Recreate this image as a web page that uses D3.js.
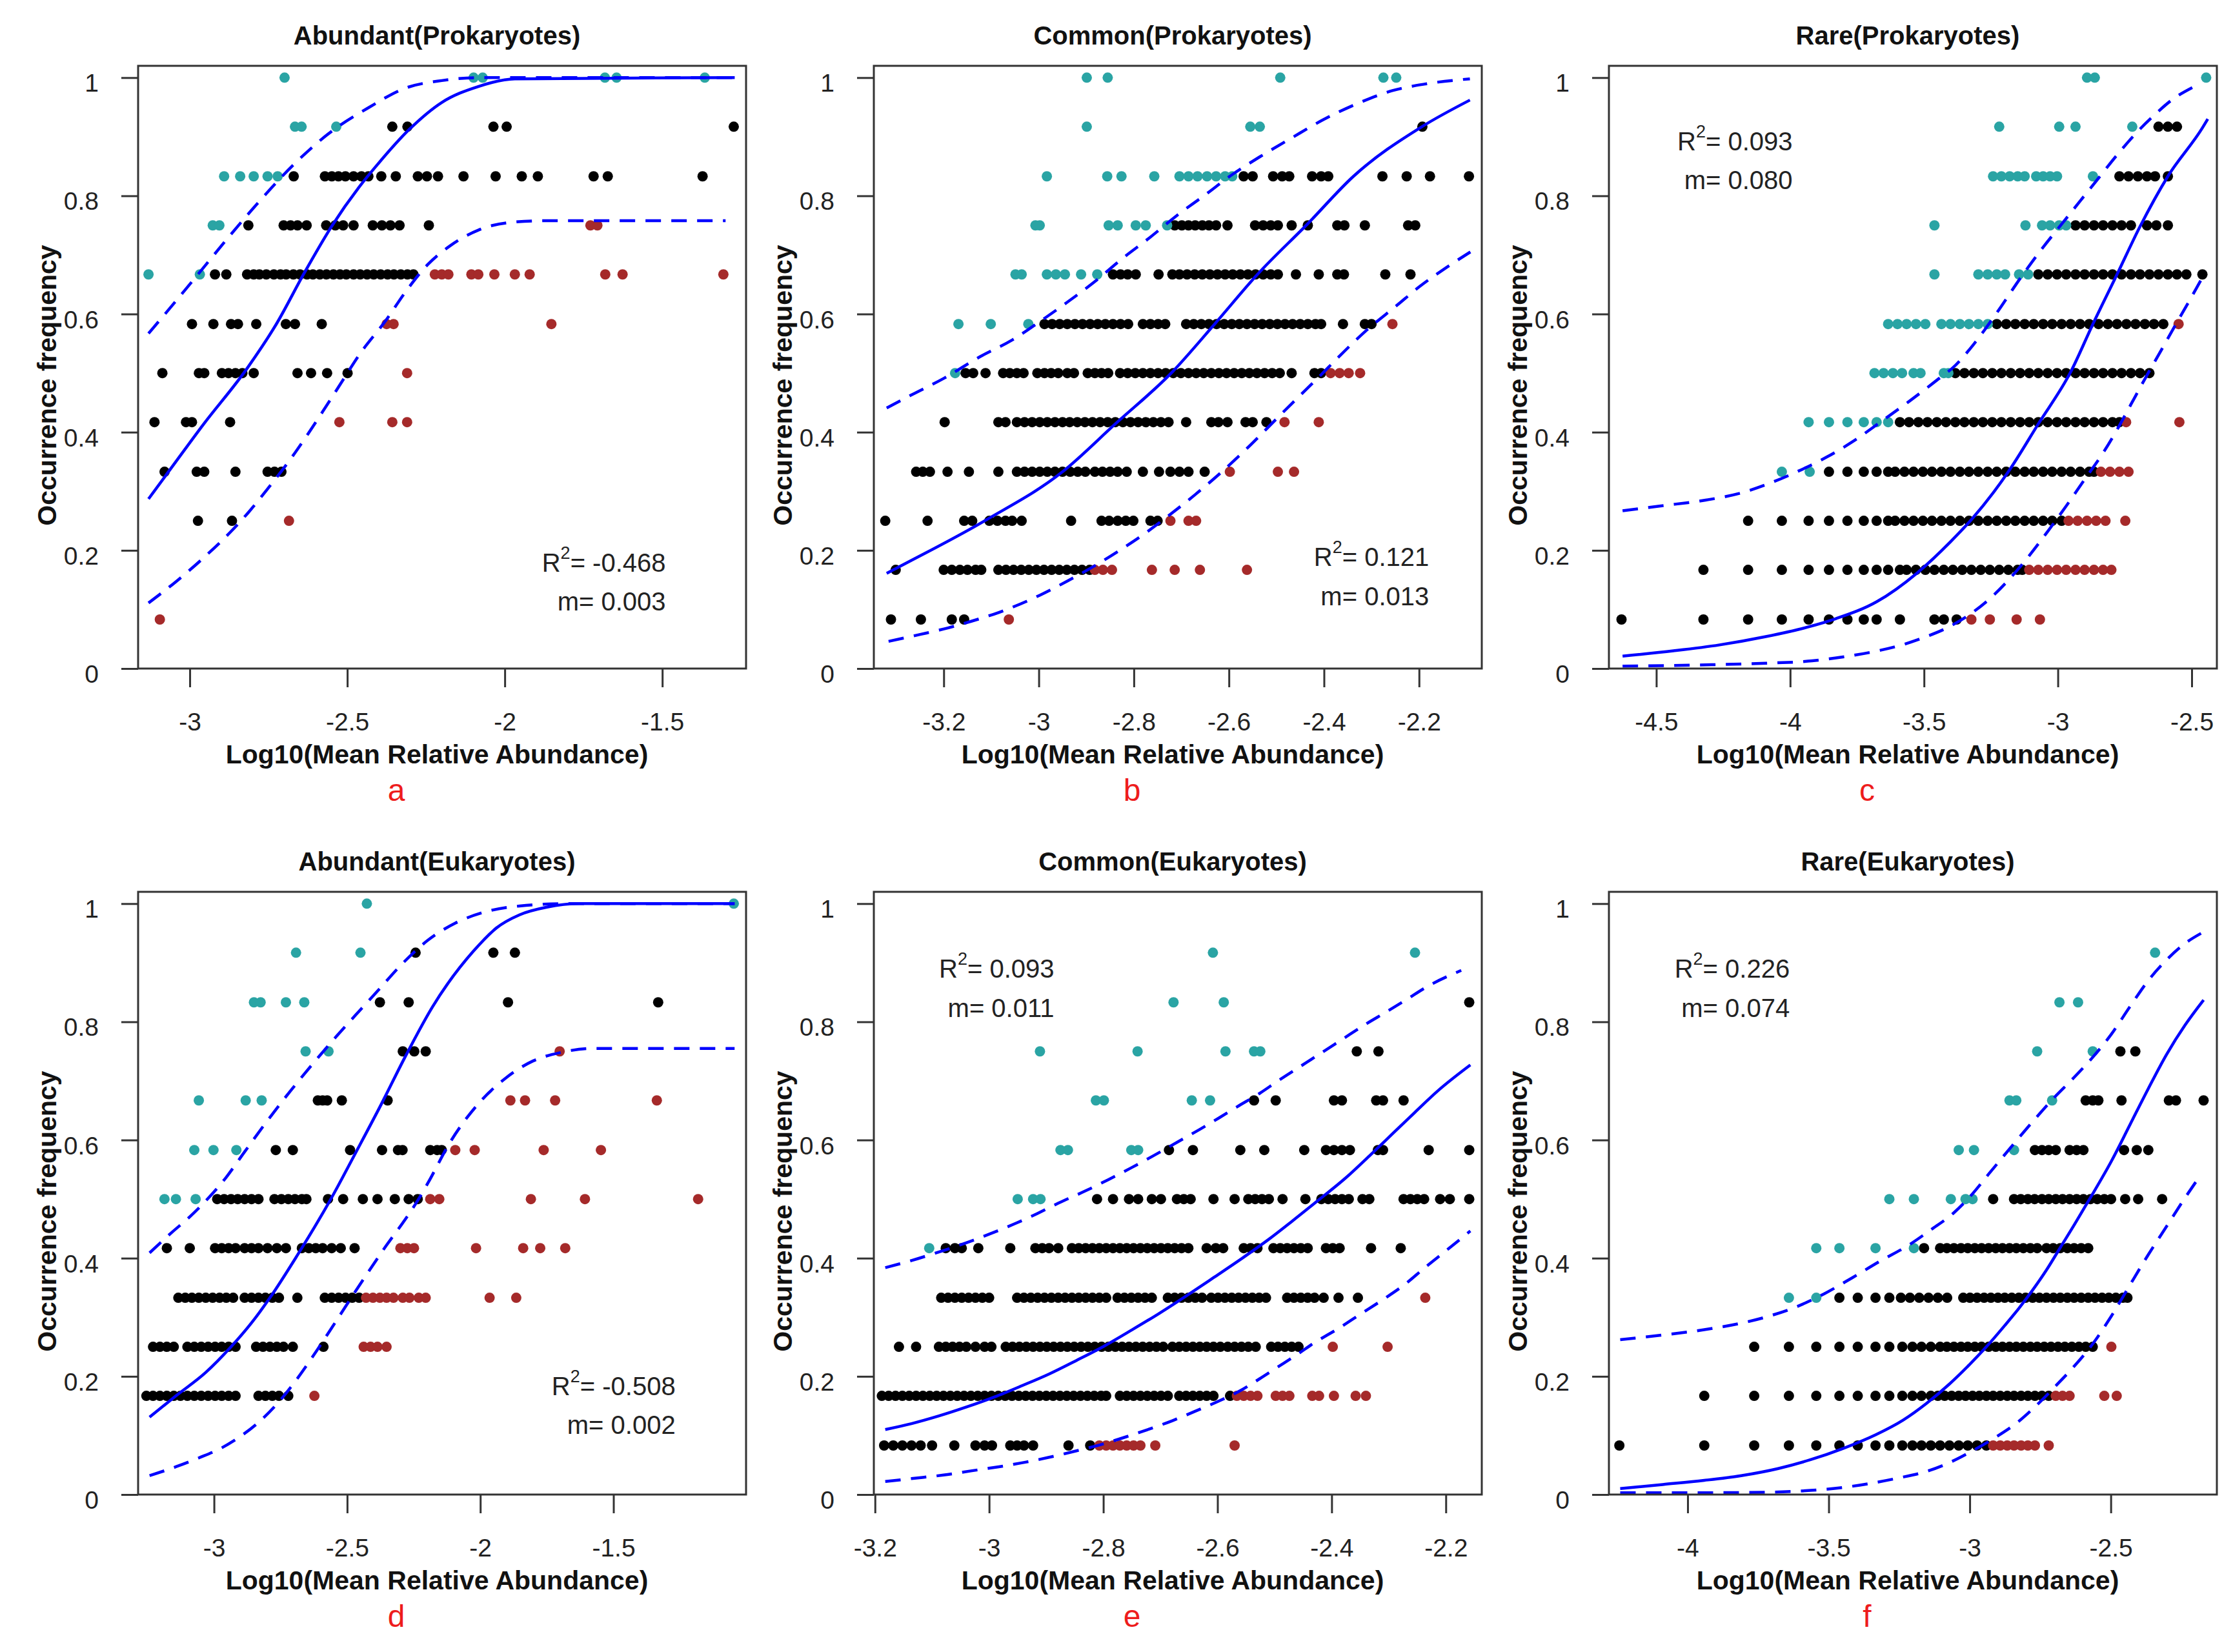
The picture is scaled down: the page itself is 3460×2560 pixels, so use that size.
<!DOCTYPE html>
<html lang="en">
<head>
<meta charset="UTF-8" />
<title>Occurrence frequency vs mean relative abundance</title>
<script src="https://d3js.org/d3.v7.min.js"></script>
<style>
  body { margin: 0; background: #fff; }
  svg { font-family: "Liberation Sans", Arial, sans-serif; }
</style>
</head>
<body>
<script>
// each row: [occurrence frequency, [log10 mean relative abundance, ...]]
// above = teal (above upper bound), neutral = black, below = brown (below lower bound)

// ---- a: Abundant (Prokaryotes)
const aAbove = [
  [1, [-2.699, -2.099, -2.070, -1.682, -1.645, -1.365]],
  [0.917, [-2.666, -2.645, -2.535]],
  [0.833, [-2.891, -2.840, -2.797, -2.753, -2.721]],
  [0.75, [-2.927, -2.906]],
  [0.667, [-3.131, -2.968]]
];
const aNeutral = [
  [0.917, [-2.357, -2.309, -2.036, -1.994, -1.273]],
  [0.833, [-2.670, -2.571, -2.549, -2.528, -2.506, -2.480, -2.455, -2.433, -2.392, -2.346, -2.276, -2.247, -2.212, -2.131, -2.029, -1.946, -1.895, -1.718, -1.673, -1.372]],
  [0.75, [-2.814, -2.702, -2.680, -2.658, -2.629, -2.567, -2.538, -2.513, -2.480, -2.419, -2.390, -2.363, -2.334, -2.241]],
  [0.667, [-2.920, -2.884, -2.818, -2.797, -2.779, -2.757, -2.733, -2.712, -2.694, -2.671, -2.650, -2.628, -2.609, -2.587, -2.566, -2.544, -2.523, -2.503, -2.480, -2.459, -2.437, -2.416, -2.394, -2.372, -2.352, -2.330, -2.309, -2.290]],
  [0.583, [-2.993, -2.925, -2.869, -2.847, -2.789, -2.695, -2.666, -2.581]],
  [0.5, [-3.087, -2.971, -2.954, -2.898, -2.877, -2.855, -2.833, -2.797, -2.658, -2.615, -2.564, -2.499]],
  [0.417, [-3.112, -3.012, -2.993, -2.872]],
  [0.333, [-3.080, -2.978, -2.954, -2.855, -2.753, -2.731, -2.709]],
  [0.25, [-2.974, -2.866]]
];
const aBelow = [
  [0.75, [-1.728, -1.706]],
  [0.667, [-2.222, -2.200, -2.179, -2.106, -2.084, -2.033, -1.968, -1.921, -1.681, -1.626, -1.306]],
  [0.583, [-2.375, -2.353, -1.852]],
  [0.5, [-2.310]],
  [0.417, [-2.525, -2.357, -2.310]],
  [0.25, [-2.685]],
  [0.083, [-3.095]]
];
const aFit = [[-3.131, 0.287], [-3.058, 0.340], [-2.957, 0.413], [-2.818, 0.508], [-2.724, 0.584], [-2.637, 0.669], [-2.550, 0.748], [-2.462, 0.815], [-2.404, 0.853], [-2.302, 0.913], [-2.200, 0.958], [-2.084, 0.985], [-1.968, 0.998], [-1.270, 1.0]];
const aUpper = [[-3.131, 0.567], [-3.044, 0.622], [-2.971, 0.669], [-2.869, 0.735], [-2.782, 0.789], [-2.666, 0.855], [-2.550, 0.909], [-2.433, 0.949], [-2.317, 0.982], [-2.200, 0.995], [-2.084, 1.0], [-1.270, 1.0]];
const aLower = [[-3.131, 0.111], [-3.044, 0.147], [-2.957, 0.187], [-2.869, 0.232], [-2.811, 0.266], [-2.753, 0.304], [-2.666, 0.365], [-2.579, 0.434], [-2.520, 0.483], [-2.462, 0.531], [-2.375, 0.591], [-2.317, 0.636], [-2.244, 0.684], [-2.172, 0.716], [-2.084, 0.742], [-1.982, 0.755], [-1.866, 0.758], [-1.299, 0.758]];

// ---- b: Common (Prokaryotes)
const bAbove = [
  [1, [-2.899, -2.855, -2.492, -2.275, -2.248]],
  [0.917, [-2.899, -2.555, -2.535]],
  [0.833, [-2.983, -2.856, -2.826, -2.757, -2.704, -2.685, -2.666, -2.646, -2.627, -2.608, -2.593]],
  [0.75, [-3.007, -2.998, -2.853, -2.834, -2.796, -2.775, -2.730]],
  [0.667, [-3.049, -3.036, -2.983, -2.964, -2.945, -2.911, -2.877]],
  [0.583, [-3.169, -3.101, -3.022]],
  [0.5, [-3.176]]
];
const bNeutral = [
  [0.917, [-2.193]],
  [0.833, [-2.569, -2.550, -2.507, -2.488, -2.473, -2.425, -2.406, -2.391, -2.277, -2.226, -2.177, -2.095]],
  [0.75, [-2.714, -2.699, -2.685, -2.671, -2.656, -2.642, -2.627, -2.603, -2.545, -2.528, -2.512, -2.497, -2.468, -2.434, -2.372, -2.357, -2.314, -2.223, -2.208]],
  [0.667, [-2.844, -2.828, -2.813, -2.796, -2.748, -2.719, -2.704, -2.688, -2.672, -2.656, -2.640, -2.624, -2.608, -2.592, -2.576, -2.560, -2.544, -2.528, -2.512, -2.497, -2.459, -2.411, -2.372, -2.358, -2.271, -2.218]],
  [0.583, [-2.988, -2.972, -2.956, -2.940, -2.924, -2.908, -2.892, -2.876, -2.860, -2.844, -2.828, -2.812, -2.781, -2.765, -2.749, -2.734, -2.690, -2.674, -2.658, -2.642, -2.626, -2.610, -2.594, -2.578, -2.562, -2.546, -2.530, -2.514, -2.498, -2.482, -2.466, -2.450, -2.434, -2.418, -2.406, -2.360, -2.314, -2.300]],
  [0.5, [-3.154, -3.138, -3.112, -3.075, -3.061, -3.046, -3.032, -3.003, -2.988, -2.974, -2.959, -2.940, -2.926, -2.897, -2.882, -2.868, -2.854, -2.829, -2.813, -2.797, -2.781, -2.765, -2.749, -2.733, -2.717, -2.701, -2.685, -2.669, -2.653, -2.637, -2.621, -2.605, -2.589, -2.573, -2.557, -2.541, -2.525, -2.509, -2.493, -2.468, -2.420, -2.406]],
  [0.417, [-3.198, -3.085, -3.070, -3.046, -3.030, -3.014, -2.998, -2.982, -2.966, -2.950, -2.935, -2.919, -2.903, -2.887, -2.871, -2.855, -2.839, -2.823, -2.807, -2.791, -2.775, -2.759, -2.743, -2.727, -2.690, -2.637, -2.622, -2.603, -2.565, -2.550, -2.521]],
  [0.333, [-3.258, -3.244, -3.229, -3.192, -3.147, -3.085, -3.046, -3.030, -3.014, -2.998, -2.982, -2.966, -2.950, -2.934, -2.918, -2.902, -2.882, -2.866, -2.850, -2.834, -2.815, -2.781, -2.747, -2.723, -2.704, -2.685, -2.651]],
  [0.25, [-3.323, -3.234, -3.157, -3.140, -3.104, -3.087, -3.070, -3.056, -3.036, -2.932, -2.868, -2.852, -2.834, -2.817, -2.801, -2.765, -2.750]],
  [0.167, [-3.301, -3.200, -3.183, -3.166, -3.150, -3.133, -3.121, -3.085, -3.069, -3.053, -3.037, -3.021, -3.005, -2.989, -2.973, -2.957, -2.941, -2.925, -2.909, -2.893]],
  [0.083, [-3.311, -3.248, -3.183, -3.157]]
];
const bBelow = [
  [0.583, [-2.256]],
  [0.5, [-2.386, -2.367, -2.348, -2.324]],
  [0.417, [-2.483, -2.411]],
  [0.333, [-2.598, -2.497, -2.463]],
  [0.25, [-2.723, -2.685, -2.669]],
  [0.167, [-2.882, -2.865, -2.846, -2.762, -2.714, -2.661, -2.562]],
  [0.083, [-3.063]]
];
const bFit = [[-3.320, 0.161], [-3.306, 0.167], [-3.114, 0.250], [-2.950, 0.333], [-2.839, 0.414], [-2.719, 0.502], [-2.630, 0.583], [-2.540, 0.667], [-2.435, 0.752], [-2.338, 0.833], [-2.194, 0.917], [-2.093, 0.962]];
const bUpper = [[-3.320, 0.441], [-3.268, 0.463], [-3.200, 0.491], [-3.123, 0.528], [-3.056, 0.556], [-2.998, 0.587], [-2.940, 0.620], [-2.882, 0.655], [-2.824, 0.694], [-2.767, 0.729], [-2.709, 0.767], [-2.651, 0.801], [-2.593, 0.836], [-2.535, 0.866], [-2.468, 0.898], [-2.401, 0.929], [-2.324, 0.958], [-2.256, 0.978], [-2.189, 0.989], [-2.093, 0.998]];
const bLower = [[-3.316, 0.046], [-3.248, 0.058], [-3.190, 0.069], [-3.142, 0.080], [-3.084, 0.095], [-2.998, 0.124], [-2.940, 0.148], [-2.882, 0.174], [-2.824, 0.203], [-2.776, 0.229], [-2.728, 0.258], [-2.670, 0.295], [-2.612, 0.335], [-2.555, 0.378], [-2.497, 0.425], [-2.439, 0.471], [-2.405, 0.498], [-2.372, 0.525], [-2.314, 0.570], [-2.246, 0.615], [-2.198, 0.647], [-2.140, 0.680], [-2.092, 0.705]];

// ---- c: Rare (Prokaryotes)
const cAbove = [
  [1, [-2.891, -2.862, -2.446]],
  [0.917, [-3.219, -2.995, -2.934, -2.722]],
  [0.833, [-3.242, -3.211, -3.180, -3.150, -3.124, -3.081, -3.055, -3.029, -3.003, -2.869]],
  [0.75, [-3.461, -3.121, -3.059, -3.029, -2.995, -2.969]],
  [0.667, [-3.461, -3.297, -3.262, -3.228, -3.197, -3.145, -3.111]],
  [0.583, [-3.634, -3.599, -3.565, -3.530, -3.495, -3.435, -3.401, -3.366, -3.332, -3.297, -3.262]],
  [0.5, [-3.685, -3.651, -3.616, -3.582, -3.539, -3.513, -3.426, -3.409]],
  [0.417, [-3.931, -3.855, -3.786, -3.725, -3.677, -3.634]],
  [0.333, [-4.031, -3.927]]
];
const cNeutral = [
  [0.917, [-2.624, -2.589, -2.555]],
  [0.833, [-2.770, -2.736, -2.701, -2.667, -2.637, -2.589]],
  [0.75, [-2.934, -2.900, -2.865, -2.831, -2.796, -2.762, -2.727, -2.667, -2.632, -2.589]],
  [0.667, [-3.073, -3.038, -3.003, -2.969, -2.934, -2.900, -2.865, -2.831, -2.796, -2.762, -2.727, -2.693, -2.658, -2.624, -2.589, -2.555, -2.520, -2.460]],
  [0.583, [-3.228, -3.193, -3.159, -3.124, -3.090, -3.055, -3.021, -2.986, -2.952, -2.917, -2.883, -2.848, -2.813, -2.779, -2.744, -2.710, -2.675, -2.641, -2.606]],
  [0.5, [-3.383, -3.349, -3.314, -3.280, -3.245, -3.211, -3.176, -3.141, -3.107, -3.073, -3.038, -3.003, -2.969, -2.934, -2.900, -2.865, -2.831, -2.796, -2.762, -2.727, -2.693, -2.658]],
  [0.417, [-3.590, -3.556, -3.521, -3.487, -3.452, -3.418, -3.383, -3.349, -3.314, -3.280, -3.245, -3.211, -3.176, -3.141, -3.107, -3.073, -3.038, -3.003, -2.969, -2.934, -2.900, -2.865, -2.831, -2.796, -2.770]],
  [0.333, [-3.855, -3.786, -3.725, -3.677, -3.634, -3.608, -3.573, -3.539, -3.504, -3.470, -3.435, -3.401, -3.366, -3.332, -3.297, -3.262, -3.228, -3.193, -3.159, -3.124, -3.090, -3.055, -3.021, -2.986, -2.952, -2.917, -2.883, -2.865]],
  [0.25, [-4.157, -4.031, -3.931, -3.855, -3.786, -3.725, -3.677, -3.634, -3.608, -3.573, -3.539, -3.504, -3.470, -3.435, -3.401, -3.366, -3.332, -3.297, -3.262, -3.228, -3.193, -3.159, -3.124, -3.090, -3.055, -3.021, -2.986]],
  [0.167, [-4.324, -4.157, -4.031, -3.931, -3.855, -3.786, -3.725, -3.677, -3.634, -3.590, -3.565, -3.530, -3.495, -3.461, -3.426, -3.392, -3.357, -3.323, -3.288, -3.254, -3.219, -3.185, -3.150, -3.133]],
  [0.083, [-4.630, -4.324, -4.157, -4.031, -3.931, -3.855, -3.786, -3.725, -3.677, -3.590, -3.461, -3.426, -3.378]]
];
const cBelow = [
  [0.583, [-2.549]],
  [0.417, [-2.745, -2.546]],
  [0.333, [-2.839, -2.805, -2.770, -2.736]],
  [0.25, [-2.960, -2.926, -2.891, -2.857, -2.822, -2.748]],
  [0.167, [-3.107, -3.073, -3.038, -3.003, -2.969, -2.934, -2.900, -2.865, -2.831, -2.800]],
  [0.083, [-3.323, -3.254, -3.154, -3.067]]
];
const cFit = [[-4.626, 0.021], [-4.436, 0.030], [-4.264, 0.040], [-4.091, 0.054], [-3.936, 0.070], [-3.832, 0.084], [-3.677, 0.113], [-3.525, 0.162], [-3.400, 0.215], [-3.323, 0.252], [-3.185, 0.333], [-3.073, 0.414], [-2.952, 0.502], [-2.869, 0.583], [-2.779, 0.667], [-2.693, 0.748], [-2.589, 0.833], [-2.460, 0.915], [-2.440, 0.930]];
const cUpper = [[-4.626, 0.267], [-4.488, 0.275], [-4.316, 0.285], [-4.177, 0.298], [-4.074, 0.314], [-3.970, 0.334], [-3.867, 0.357], [-3.763, 0.385], [-3.660, 0.418], [-3.556, 0.452], [-3.452, 0.488], [-3.383, 0.513], [-3.314, 0.549], [-3.228, 0.602], [-3.141, 0.660], [-3.055, 0.713], [-2.986, 0.752], [-2.917, 0.791], [-2.848, 0.830], [-2.779, 0.869], [-2.710, 0.905], [-2.641, 0.936], [-2.572, 0.963], [-2.494, 0.984]];
const cLower = [[-4.626, 0.004], [-4.350, 0.006], [-4.091, 0.009], [-3.918, 0.013], [-3.798, 0.020], [-3.694, 0.028], [-3.590, 0.039], [-3.504, 0.052], [-3.418, 0.068], [-3.331, 0.091], [-3.245, 0.122], [-3.176, 0.154], [-3.107, 0.191], [-3.038, 0.232], [-2.969, 0.275], [-2.900, 0.320], [-2.831, 0.365], [-2.779, 0.404], [-2.727, 0.447], [-2.675, 0.490], [-2.606, 0.545], [-2.555, 0.586], [-2.503, 0.627], [-2.451, 0.669]];

// ---- d: Abundant (Eukaryotes)
const dAbove = [
  [1, [-2.426, -1.048]],
  [0.917, [-2.692, -2.450]],
  [0.833, [-2.850, -2.825, -2.730, -2.661]],
  [0.75, [-2.656, -2.570]],
  [0.667, [-3.057, -2.881, -2.821]],
  [0.583, [-3.074, -3.002, -2.916]],
  [0.5, [-3.186, -3.143, -3.069]]
];
const dNeutral = [
  [0.917, [-2.243, -1.951, -1.870]],
  [0.833, [-2.377, -2.269, -1.896, -1.332]],
  [0.75, [-2.291, -2.248, -2.205]],
  [0.667, [-2.610, -2.592, -2.575, -2.520, -2.348]],
  [0.583, [-2.768, -2.704, -2.489, -2.369, -2.309, -2.292, -2.188, -2.162, -2.145]],
  [0.5, [-2.988, -2.962, -2.936, -2.911, -2.885, -2.859, -2.833, -2.773, -2.747, -2.721, -2.696, -2.670, -2.653, -2.572, -2.515, -2.441, -2.386, -2.321, -2.269, -2.235]],
  [0.417, [-3.177, -3.091, -2.996, -2.971, -2.945, -2.919, -2.885, -2.859, -2.833, -2.799, -2.764, -2.730, -2.670, -2.644, -2.618, -2.592, -2.558, -2.524, -2.472]],
  [0.333, [-3.134, -3.108, -3.083, -3.057, -3.031, -3.005, -2.979, -2.954, -2.928, -2.885, -2.859, -2.833, -2.807, -2.781, -2.756, -2.687, -2.584, -2.558, -2.532, -2.506, -2.481, -2.455]],
  [0.25, [-3.229, -3.203, -3.177, -3.151, -3.100, -3.074, -3.048, -3.022, -2.996, -2.971, -2.945, -2.919, -2.842, -2.816, -2.790, -2.764, -2.739, -2.704, -2.589]],
  [0.167, [-3.254, -3.229, -3.203, -3.177, -3.151, -3.126, -3.100, -3.074, -3.048, -3.022, -2.996, -2.971, -2.945, -2.919, -2.833, -2.807, -2.781, -2.756, -2.721]]
];
const dBelow = [
  [0.75, [-1.702]],
  [0.667, [-1.887, -1.832, -1.719, -1.337]],
  [0.583, [-2.094, -2.021, -1.762, -1.547]],
  [0.5, [-2.188, -2.154, -1.810, -1.607, -1.182]],
  [0.417, [-2.300, -2.274, -2.249, -2.016, -1.839, -1.775, -1.681]],
  [0.333, [-2.429, -2.403, -2.377, -2.352, -2.326, -2.291, -2.266, -2.231, -2.205, -1.965, -1.865]],
  [0.25, [-2.438, -2.412, -2.386, -2.352]],
  [0.167, [-2.623]]
];
const dFit = [[-3.242, 0.131], [-3.143, 0.167], [-3.030, 0.207], [-2.936, 0.250], [-2.860, 0.290], [-2.790, 0.333], [-2.687, 0.405], [-2.610, 0.462], [-2.549, 0.510], [-2.472, 0.575], [-2.369, 0.663], [-2.283, 0.740], [-2.180, 0.825], [-2.025, 0.920], [-1.939, 0.959], [-1.853, 0.981], [-1.750, 0.994], [-1.629, 1.0], [-1.045, 1.0]];
const dUpper = [[-3.242, 0.409], [-3.160, 0.443], [-3.091, 0.470], [-3.031, 0.497], [-2.954, 0.537], [-2.885, 0.580], [-2.799, 0.633], [-2.713, 0.683], [-2.627, 0.730], [-2.541, 0.775], [-2.455, 0.818], [-2.386, 0.852], [-2.300, 0.895], [-2.197, 0.938], [-2.094, 0.967], [-1.990, 0.985], [-1.853, 0.996], [-1.681, 1.0], [-1.045, 1.0]];
const dLower = [[-3.242, 0.032], [-3.143, 0.047], [-3.057, 0.062], [-2.971, 0.079], [-2.902, 0.098], [-2.833, 0.122], [-2.764, 0.153], [-2.696, 0.191], [-2.627, 0.235], [-2.558, 0.282], [-2.489, 0.330], [-2.420, 0.377], [-2.352, 0.422], [-2.283, 0.465], [-2.240, 0.494], [-2.197, 0.527], [-2.111, 0.598], [-2.008, 0.661], [-1.904, 0.705], [-1.801, 0.734], [-1.698, 0.748], [-1.578, 0.755], [-1.045, 0.755]];

// ---- e: Common (Eukaryotes)
const eAbove = [
  [0.917, [-2.608, -2.254]],
  [0.833, [-2.677, -2.589]],
  [0.75, [-2.911, -2.740, -2.586, -2.536, -2.525]],
  [0.667, [-2.813, -2.799, -2.645, -2.613]],
  [0.583, [-2.875, -2.862, -2.751, -2.739]],
  [0.5, [-2.950, -2.923, -2.910]],
  [0.417, [-3.105]]
];
const eNeutral = [
  [0.833, [-2.159]],
  [0.75, [-2.356, -2.318]],
  [0.667, [-2.536, -2.498, -2.396, -2.382, -2.322, -2.310, -2.274]],
  [0.583, [-2.685, -2.643, -2.560, -2.518, -2.448, -2.410, -2.396, -2.382, -2.368, -2.319, -2.310, -2.230, -2.159]],
  [0.5, [-2.811, -2.783, -2.755, -2.739, -2.715, -2.699, -2.671, -2.659, -2.647, -2.607, -2.570, -2.546, -2.534, -2.522, -2.510, -2.486, -2.446, -2.418, -2.406, -2.394, -2.382, -2.370, -2.346, -2.334, -2.274, -2.262, -2.250, -2.238, -2.210, -2.193, -2.159]],
  [0.417, [-3.076, -3.060, -3.048, -3.019, -2.963, -2.919, -2.907, -2.895, -2.879, -2.855, -2.843, -2.831, -2.819, -2.807, -2.795, -2.783, -2.771, -2.759, -2.747, -2.735, -2.723, -2.711, -2.699, -2.687, -2.675, -2.663, -2.651, -2.619, -2.603, -2.590, -2.554, -2.542, -2.530, -2.502, -2.490, -2.478, -2.466, -2.454, -2.442, -2.410, -2.398, -2.386, -2.331, -2.279]],
  [0.333, [-3.084, -3.072, -3.060, -3.048, -3.036, -3.024, -3.012, -3.000, -2.951, -2.939, -2.927, -2.915, -2.903, -2.891, -2.879, -2.867, -2.855, -2.843, -2.831, -2.819, -2.807, -2.795, -2.775, -2.763, -2.751, -2.739, -2.727, -2.715, -2.687, -2.675, -2.663, -2.651, -2.639, -2.627, -2.611, -2.599, -2.587, -2.575, -2.563, -2.551, -2.539, -2.527, -2.515, -2.478, -2.466, -2.454, -2.442, -2.430, -2.414, -2.388, -2.354]],
  [0.25, [-3.158, -3.128, -3.088, -3.076, -3.064, -3.052, -3.040, -3.024, -3.008, -2.996, -2.971, -2.959, -2.947, -2.935, -2.923, -2.911, -2.899, -2.887, -2.875, -2.863, -2.851, -2.839, -2.827, -2.815, -2.803, -2.791, -2.779, -2.767, -2.755, -2.743, -2.731, -2.719, -2.707, -2.695, -2.679, -2.667, -2.655, -2.643, -2.631, -2.619, -2.607, -2.595, -2.582, -2.570, -2.558, -2.546, -2.533, -2.506, -2.494, -2.482, -2.470, -2.458]],
  [0.167, [-3.188, -3.176, -3.164, -3.152, -3.140, -3.128, -3.116, -3.104, -3.092, -3.080, -3.068, -3.056, -3.044, -3.032, -3.020, -3.008, -2.996, -2.984, -2.972, -2.960, -2.948, -2.936, -2.924, -2.912, -2.900, -2.888, -2.876, -2.864, -2.852, -2.840, -2.828, -2.816, -2.804, -2.795, -2.771, -2.759, -2.747, -2.735, -2.723, -2.711, -2.699, -2.687, -2.667, -2.655, -2.643, -2.631, -2.619, -2.607, -2.578]],
  [0.083, [-3.184, -3.168, -3.152, -3.136, -3.120, -3.100, -3.061, -3.024, -3.008, -2.995, -2.963, -2.951, -2.939, -2.923, -2.861, -2.823]]
];
const eBelow = [
  [0.333, [-2.236]],
  [0.25, [-2.398, -2.302]],
  [0.167, [-2.566, -2.554, -2.542, -2.530, -2.498, -2.486, -2.474, -2.434, -2.422, -2.396, -2.358, -2.340]],
  [0.083, [-2.807, -2.795, -2.783, -2.771, -2.759, -2.747, -2.735, -2.709, -2.570]]
];
const eFit = [[-3.182, 0.110], [-3.136, 0.120], [-3.088, 0.133], [-3.040, 0.148], [-2.991, 0.165], [-2.943, 0.184], [-2.895, 0.204], [-2.847, 0.227], [-2.799, 0.251], [-2.751, 0.278], [-2.703, 0.306], [-2.655, 0.336], [-2.607, 0.367], [-2.558, 0.399], [-2.510, 0.432], [-2.470, 0.462], [-2.426, 0.496], [-2.374, 0.537], [-2.334, 0.573], [-2.294, 0.610], [-2.254, 0.647], [-2.213, 0.684], [-2.157, 0.727]];
const eUpper = [[-3.182, 0.384], [-3.136, 0.396], [-3.096, 0.408], [-3.040, 0.426], [-2.991, 0.444], [-2.951, 0.460], [-2.919, 0.474], [-2.879, 0.493], [-2.831, 0.514], [-2.791, 0.533], [-2.751, 0.553], [-2.711, 0.574], [-2.671, 0.596], [-2.631, 0.618], [-2.598, 0.637], [-2.566, 0.656], [-2.526, 0.679], [-2.494, 0.700], [-2.454, 0.725], [-2.422, 0.745], [-2.382, 0.770], [-2.342, 0.795], [-2.302, 0.818], [-2.270, 0.837], [-2.230, 0.861], [-2.173, 0.887]];
const eLower = [[-3.182, 0.022], [-3.136, 0.027], [-3.080, 0.033], [-3.032, 0.040], [-2.983, 0.047], [-2.935, 0.055], [-2.895, 0.063], [-2.847, 0.074], [-2.799, 0.086], [-2.759, 0.098], [-2.719, 0.111], [-2.679, 0.125], [-2.639, 0.141], [-2.598, 0.158], [-2.558, 0.177], [-2.526, 0.196], [-2.494, 0.216], [-2.462, 0.236], [-2.430, 0.257], [-2.390, 0.280], [-2.350, 0.305], [-2.310, 0.330], [-2.270, 0.357], [-2.238, 0.383], [-2.198, 0.414], [-2.157, 0.446]];

// ---- f: Rare (Eukaryotes)
const fAbove = [
  [0.917, [-2.343]],
  [0.833, [-2.682, -2.616]],
  [0.75, [-2.761, -2.564]],
  [0.667, [-2.859, -2.835, -2.708]],
  [0.583, [-3.039, -2.985, -2.843]],
  [0.5, [-3.285, -3.198, -3.067, -3.015, -2.990]],
  [0.417, [-3.544, -3.462, -3.334, -3.198]],
  [0.333, [-3.641, -3.544]]
];
const fNeutral = [
  [0.75, [-2.466, -2.413]],
  [0.667, [-2.589, -2.564, -2.544, -2.462, -2.294, -2.269, -2.171]],
  [0.583, [-2.769, -2.744, -2.720, -2.695, -2.646, -2.621, -2.597, -2.453, -2.408, -2.367]],
  [0.5, [-2.917, -2.843, -2.819, -2.794, -2.770, -2.744, -2.720, -2.695, -2.671, -2.646, -2.621, -2.597, -2.572, -2.548, -2.523, -2.499, -2.449, -2.403, -2.318]],
  [0.417, [-3.162, -3.105, -3.081, -3.056, -3.031, -3.007, -2.982, -2.958, -2.933, -2.908, -2.884, -2.859, -2.835, -2.810, -2.785, -2.761, -2.728, -2.704, -2.679, -2.654, -2.630, -2.605, -2.580]],
  [0.333, [-3.462, -3.397, -3.334, -3.285, -3.244, -3.212, -3.179, -3.146, -3.113, -3.080, -3.023, -2.999, -2.974, -2.949, -2.925, -2.900, -2.876, -2.851, -2.826, -2.802, -2.777, -2.753, -2.728, -2.703, -2.679, -2.654, -2.630, -2.605, -2.580, -2.556, -2.531, -2.507, -2.482, -2.457, -2.441]],
  [0.25, [-3.764, -3.641, -3.544, -3.462, -3.397, -3.334, -3.285, -3.239, -3.203, -3.171, -3.138, -3.105, -3.081, -3.056, -3.031, -3.007, -2.982, -2.958, -2.933, -2.908, -2.884, -2.859, -2.835, -2.810, -2.785, -2.761, -2.736, -2.712, -2.687, -2.663, -2.638, -2.613, -2.589, -2.564]],
  [0.167, [-3.941, -3.764, -3.641, -3.544, -3.462, -3.397, -3.334, -3.285, -3.239, -3.203, -3.171, -3.138, -3.113, -3.089, -3.064, -3.039, -3.015, -2.990, -2.966, -2.941, -2.917, -2.892, -2.867, -2.843, -2.818, -2.794, -2.769, -2.744, -2.720]],
  [0.083, [-4.242, -3.941, -3.764, -3.641, -3.544, -3.462, -3.397, -3.334, -3.285, -3.239, -3.203, -3.171, -3.138, -3.105, -3.072, -3.039, -3.007, -2.974, -2.941]]
];
const fBelow = [
  [0.25, [-2.498]],
  [0.167, [-2.695, -2.671, -2.646, -2.523, -2.479]],
  [0.083, [-2.917, -2.892, -2.867, -2.843, -2.818, -2.794, -2.769, -2.720]]
];
const fFit = [[-4.239, 0.010], [-4.088, 0.017], [-3.941, 0.024], [-3.810, 0.032], [-3.679, 0.044], [-3.564, 0.059], [-3.449, 0.078], [-3.334, 0.101], [-3.236, 0.126], [-3.154, 0.154], [-3.072, 0.187], [-3.007, 0.217], [-2.941, 0.250], [-2.876, 0.286], [-2.826, 0.315], [-2.777, 0.346], [-2.728, 0.380], [-2.679, 0.418], [-2.630, 0.456], [-2.589, 0.489], [-2.564, 0.509], [-2.498, 0.564], [-2.433, 0.625], [-2.367, 0.687], [-2.302, 0.745], [-2.236, 0.795], [-2.171, 0.837]];
const fUpper = [[-4.239, 0.262], [-4.088, 0.270], [-3.941, 0.279], [-3.810, 0.290], [-3.711, 0.302], [-3.613, 0.318], [-3.515, 0.340], [-3.416, 0.367], [-3.318, 0.395], [-3.220, 0.421], [-3.138, 0.448], [-3.056, 0.477], [-3.007, 0.500], [-2.925, 0.547], [-2.843, 0.594], [-2.777, 0.631], [-2.712, 0.666], [-2.630, 0.706], [-2.564, 0.740], [-2.498, 0.779], [-2.433, 0.825], [-2.367, 0.870], [-2.302, 0.905], [-2.236, 0.933], [-2.179, 0.950]];
const fLower = [[-4.239, 0.003], [-3.974, 0.003], [-3.711, 0.004], [-3.564, 0.007], [-3.449, 0.012], [-3.351, 0.019], [-3.253, 0.028], [-3.154, 0.039], [-3.072, 0.054], [-2.990, 0.074], [-2.908, 0.097], [-2.826, 0.124], [-2.761, 0.152], [-2.695, 0.184], [-2.630, 0.217], [-2.564, 0.255], [-2.498, 0.302], [-2.433, 0.354], [-2.367, 0.406], [-2.302, 0.454], [-2.244, 0.497], [-2.187, 0.537]];

const yTicks = [0, 0.2, 0.4, 0.6, 0.8, 1];

const panels = [
  {id: "a", col: 0, row: 0, title: "Abundant(Prokaryotes)", xDomain: [-3.164, -1.234], xTicks: [-3, -2.5, -2, -1.5],
   above: aAbove, neutral: aNeutral, below: aBelow, fit: aFit, upper: aUpper, lower: aLower, r2: "-0.468", m: "0.003", stat: [-1.489, 0.18]},
  {id: "b", col: 1, row: 0, title: "Common(Prokaryotes)", xDomain: [-3.347, -2.068], xTicks: [-3.2, -3, -2.8, -2.6, -2.4, -2.2],
   above: bAbove, neutral: bNeutral, below: bBelow, fit: bFit, upper: bUpper, lower: bLower, r2: "0.121", m: "0.013", stat: [-2.179, 0.189]},
  {id: "c", col: 2, row: 0, title: "Rare(Prokaryotes)", xDomain: [-4.677, -2.406], xTicks: [-4.5, -4, -3.5, -3, -2.5],
   above: cAbove, neutral: cNeutral, below: cBelow, fit: cFit, upper: cUpper, lower: cLower, r2: "0.093", m: "0.080", stat: [-3.991, 0.893]},
  {id: "d", col: 0, row: 1, title: "Abundant(Eukaryotes)", xDomain: [-3.285, -1.002], xTicks: [-3, -2.5, -2, -1.5],
   above: dAbove, neutral: dNeutral, below: dBelow, fit: dFit, upper: dUpper, lower: dLower, r2: "-0.508", m: "0.002", stat: [-1.267, 0.184]},
  {id: "e", col: 1, row: 1, title: "Common(Eukaryotes)", xDomain: [-3.202, -2.137], xTicks: [-3.2, -3, -2.8, -2.6, -2.4, -2.2],
   above: eAbove, neutral: eNeutral, below: eBelow, fit: eFit, upper: eUpper, lower: eLower, r2: "0.093", m: "0.011", stat: [-2.886, 0.890]},
  {id: "f", col: 2, row: 1, title: "Rare(Eukaryotes)", xDomain: [-4.279, -2.124], xTicks: [-4, -3.5, -3, -2.5],
   above: fAbove, neutral: fNeutral, below: fBelow, fit: fFit, upper: fUpper, lower: fLower, r2: "0.226", m: "0.074", stat: [-3.638, 0.890]}
];

const W = 3460, H = 2560;
const boxW = 942, boxH = 934;
const colX = [214, 1354, 2493];
const rowY = [102, 1382];
const colors = {above: "#2aa4a4", neutral: "#000000", below: "#a52a2a"};

const svg = d3.select("body").append("svg")
  .attr("width", W).attr("height", H);
svg.append("rect").attr("width", W).attr("height", H).attr("fill", "#fff");

panels.forEach(function(p) {
  const left = colX[p.col], top = rowY[p.row];
  const x = d3.scaleLinear().domain(p.xDomain).range([0, boxW]);
  const y = d3.scaleLinear().domain([0, 1.02]).range([boxH, 0]);

  const g = svg.append("g").attr("transform", "translate(" + left + "," + top + ")");

  g.append("clipPath").attr("id", "clip-" + p.id)
    .append("rect").attr("width", boxW).attr("height", boxH);
  const plot = g.append("g").attr("clip-path", "url(#clip-" + p.id + ")");

  // points
  ["neutral", "above", "below"].forEach(function(k) {
    const pts = p[k].flatMap(function(r) { return r[1].map(function(v) { return [v, r[0]]; }); });
    plot.append("g").attr("fill", colors[k])
      .selectAll("circle").data(pts).join("circle")
      .attr("cx", function(d) { return x(d[0]); })
      .attr("cy", function(d) { return y(d[1]); })
      .attr("r", 8);
  });

  // fitted curve and confidence bounds
  const line = d3.line()
    .x(function(d) { return x(d[0]); })
    .y(function(d) { return y(d[1]); })
    .curve(d3.curveMonotoneX);
  plot.append("path").datum(p.fit).attr("d", line)
    .attr("fill", "none").attr("stroke", "#0000ff").attr("stroke-width", 4.5);
  [p.upper, p.lower].forEach(function(c) {
    plot.append("path").datum(c).attr("d", line)
      .attr("fill", "none").attr("stroke", "#0000ff").attr("stroke-width", 4.5)
      .attr("stroke-dasharray", "24,16");
  });

  // axes
  const yAxis = g.append("g")
    .call(d3.axisLeft(y).tickValues(yTicks).tickSize(26).tickPadding(35)
      .tickFormat(function(d) { return String(d); }));
  const xAxis = g.append("g").attr("transform", "translate(0," + boxH + ")")
    .call(d3.axisBottom(x).tickValues(p.xTicks).tickSize(29).tickPadding(39)
      .tickFormat(function(d) { return String(d); }));
  [yAxis, xAxis].forEach(function(a) {
    a.select(".domain").remove();
    a.selectAll(".tick line").attr("stroke", "#333").attr("stroke-width", 3);
    a.selectAll(".tick text").attr("font-size", 39).attr("fill", "#222")
      .attr("font-family", "Liberation Sans, Arial, sans-serif");
  });
  yAxis.selectAll(".tick text").attr("dy", "0.55em");

  // frame
  g.append("rect").attr("width", boxW).attr("height", boxH)
    .attr("fill", "none").attr("stroke", "#333").attr("stroke-width", 3);

  // titles
  g.append("text").attr("x", boxW / 2 - 8).attr("y", -33)
    .attr("text-anchor", "middle").attr("font-size", 40).attr("font-weight", "bold")
    .attr("fill", "#111").text(p.title);
  g.append("text").attr("x", boxW / 2 - 8).attr("y", boxH + 147)
    .attr("text-anchor", "middle").attr("font-size", 41).attr("font-weight", "bold")
    .attr("fill", "#111").text("Log10(Mean Relative Abundance)");
  g.append("text")
    .attr("transform", "translate(-127," + (boxH / 2 + 28) + ") rotate(-90)")
    .attr("text-anchor", "middle").attr("font-size", 41).attr("font-weight", "bold")
    .attr("fill", "#111").text("Occurrence frequency");
  g.append("text").attr("x", 400).attr("y", boxH + 205)
    .attr("text-anchor", "middle").attr("font-size", 48)
    .attr("fill", "#ee1c1c").text(p.id);

  // fit statistics
  const sx = x(p.stat[0]), sy = y(p.stat[1]);
  const r2 = g.append("text").attr("x", sx).attr("y", sy).attr("dy", "0.36em")
    .attr("text-anchor", "end").attr("font-size", 40).attr("fill", "#222");
  r2.append("tspan").text("R");
  r2.append("tspan").attr("dy", -20).attr("font-size", 27).text("2");
  r2.append("tspan").attr("dy", 20).text("= " + p.r2);
  g.append("text").attr("x", sx).attr("y", y(p.stat[1] - 0.066)).attr("dy", "0.36em")
    .attr("text-anchor", "end").attr("font-size", 40).attr("fill", "#222")
    .text("m= " + p.m);
});
</script>
</body>
</html>
